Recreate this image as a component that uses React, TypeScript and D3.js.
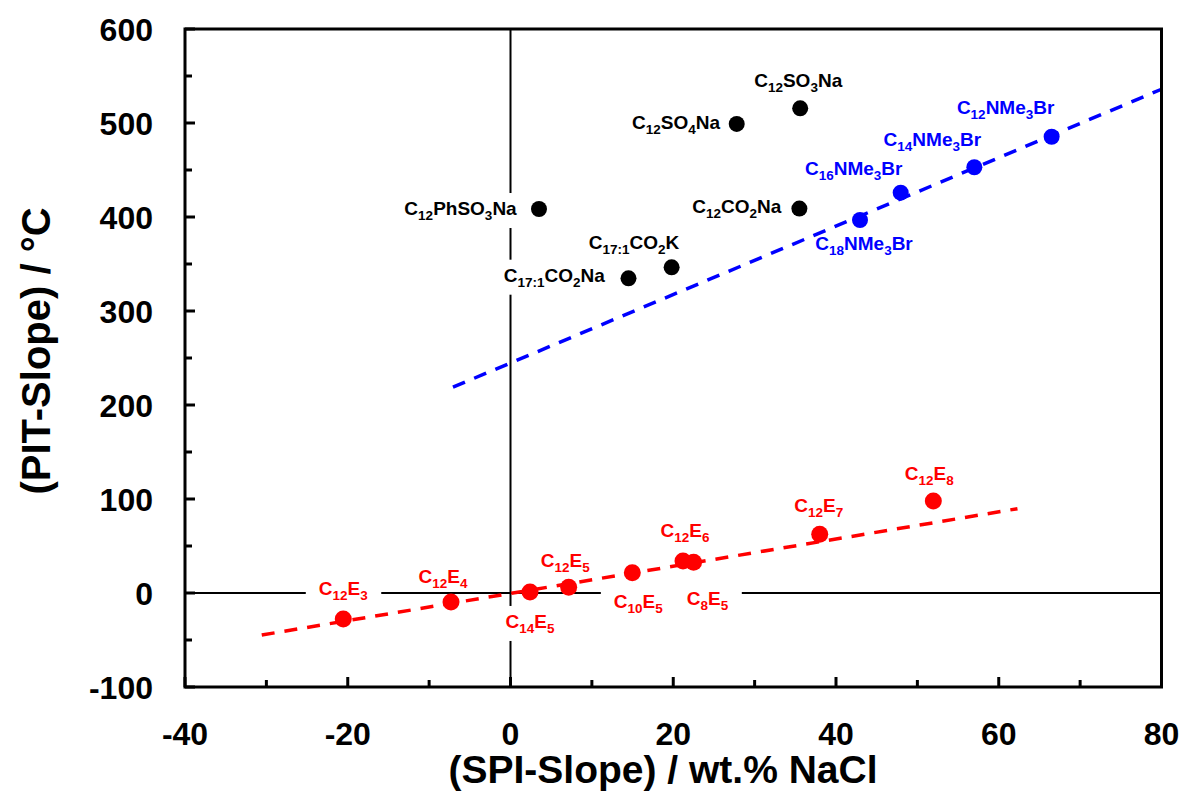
import React, { useEffect, useRef } from "react";
import * as d3 from "d3";

// ---- data ----
const anionicNames = ["C_12SO_3Na", "C_12SO_4Na", "C_12PhSO_3Na", "C_12CO_2Na", "C_17:1CO_2K", "C_17:1CO_2Na"];
const anionicSPI = [35.6, 27.8, 3.5, 35.5, 19.8, 14.5];
const anionicPIT = [515.6, 499, 408.5, 409, 346.5, 334.8];

const cationicNames = ["C_12NMe_3Br", "C_14NMe_3Br", "C_16NMe_3Br", "C_18NMe_3Br"];
const cationicSPI = [66.5, 57.0, 47.95, 42.95];
const cationicPIT = [485.4, 452.9, 425.9, 396.8];

const nonionicNames = ["C_12E_3", "C_12E_4", "C_14E_5", "C_12E_5", "C_10E_5", "C_12E_6", "C_8E_5", "C_12E_7", "C_12E_8"];
const nonionicSPI = [-20.55, -7.31, 2.4, 7.15, 14.97, 21.2, 22.5, 38.0, 51.96];
const nonionicPIT = [-27.7, -9.6, 1.1, 6.0, 21.6, 34.0, 32.6, 62.4, 97.9];

// linear fits: [xStart, xEnd], slope, intercept
const cationicFitRange = [-7.07, 80];
const cationicFitSlope = 3.64;
const cationicFitIntercept = 244.7;
const nonionicFitRange = [-30.57, 62.3];
const nonionicFitSlope = 1.447;
const nonionicFitIntercept = -0.46;

const xTicksMajor = [-40, -20, 0, 20, 40, 60, 80];
const xTicksMinor = [-30, -10, 10, 30, 50, 70];
const yTicksMajor = [-100, 0, 100, 200, 300, 400, 500, 600];
const yTicksMinor = [-50, 50, 150, 250, 350, 450, 550];

// label placement (pixel offsets from point)
const anionicLabelOffsets = [
  [-2, -21.6, "middle"], [-16.7, 5.3, "end"], [-22.3, 6, "end"],
  [-18, 4.4, "end"], [-37.7, -18, "middle"], [-23.7, 3.4, "end"],
];
const cationicLabelOffsets = [
  [-46, -22.7, "middle"], [-42, -21, "middle"], [-47, -17.7, "middle"], [4, 30, "middle"],
];
const nonionicLabelOffsets = [
  [0, -24, "middle"], [-8, -18.7, "middle"], [0, 36, "middle"], [-3.4, -20.6, "middle"],
  [6, 35.6, "middle"], [2, -24.3, "middle"], [14, 42.7, "middle"], [-1, -22.6, "middle"], [-4, -21, "middle"],
];
const knockoutLabels = ["C_12PhSO_3Na", "C_17:1CO_2Na", "C_14E_5", "C_12E_3", "C_10E_5", "C_8E_5"];

const FONT = "Arial, 'Liberation Sans', Helvetica, sans-serif";

export default function App() {
  const ref = useRef<SVGSVGElement>(null);

  useEffect(() => {
    const svg = d3.select(ref.current);
    svg.selectAll("*").remove();

    const x = d3.scaleLinear().domain([-40, 80]).range([185, 1161.5]);
    const y = d3.scaleLinear().domain([-100, 600]).range([687, 29]);
    const [x0, x1] = x.range();
    const [yb, yt] = y.range();

    const gZero = svg.append("g");
    const gBox = svg.append("g");
    const gFit = svg.append("g");
    const gPts = svg.append("g");
    const gTxt = svg.append("g");
    const gAxis = svg.append("g");

    // zero lines
    gZero.append("line").attr("x1", x0).attr("x2", x1).attr("y1", y(0)).attr("y2", y(0))
      .attr("stroke", "#000").attr("stroke-width", 2);
    gZero.append("line").attr("x1", x(0)).attr("x2", x(0)).attr("y1", yt).attr("y2", yb)
      .attr("stroke", "#000").attr("stroke-width", 2);

    // fit lines
    const fits = [
      { r: cationicFitRange, m: cationicFitSlope, b: cationicFitIntercept, c: "#0000ff" },
      { r: nonionicFitRange, m: nonionicFitSlope, b: nonionicFitIntercept, c: "#ff0000" },
    ];
    fits.forEach((f) => {
      const pts = f.r.map((v) => [x(v), y(f.m * v + f.b)] as [number, number]);
      gFit.append("path").attr("d", d3.line()(pts) as string)
        .attr("stroke", f.c).attr("stroke-width", 3.5).attr("fill", "none")
        .attr("stroke-dasharray", "13 10");
    });

    const groups = [
      { names: anionicNames, xs: anionicSPI, ys: anionicPIT, offs: anionicLabelOffsets, c: "#000000", r: 8 },
      { names: cationicNames, xs: cationicSPI, ys: cationicPIT, offs: cationicLabelOffsets, c: "#0000ff", r: 8 },
      { names: nonionicNames, xs: nonionicSPI, ys: nonionicPIT, offs: nonionicLabelOffsets, c: "#ff0000", r: 8.5 },
    ];

    groups.forEach((g) => {
      g.names.forEach((name, i) => {
        const px = x(g.xs[i]);
        const py = y(g.ys[i]);
        gPts.append("circle").attr("cx", px).attr("cy", py).attr("r", g.r).attr("fill", g.c);
        const [dx, dy, anchor] = g.offs[i] as [number, number, string];
        const t = gTxt.append("text").attr("x", px + dx).attr("y", py + dy)
          .attr("text-anchor", anchor).attr("font-family", FONT).attr("font-weight", "bold")
          .attr("font-size", 19).attr("fill", g.c);
        const parts = name.split(/_([0-9:]+)/);
        let shifted = false;
        parts.forEach((p, k) => {
          if (p === "") return;
          const isSub = k % 2 === 1;
          const ts = t.append("tspan").text(p);
          if (isSub) {
            ts.attr("font-size", 13.5).attr("dy", shifted ? 0 : 5);
            shifted = true;
          } else {
            if (shifted) ts.attr("dy", -5);
            shifted = false;
          }
        });
        if (knockoutLabels.includes(name)) {
          const bb = (t.node() as SVGTextElement).getBBox();
          gBox.append("rect").attr("x", bb.x - 13).attr("y", bb.y - 5)
            .attr("width", bb.width + 26).attr("height", bb.height + 10).attr("fill", "#fff");
        }
      });
    });

    // frame
    gAxis.append("rect").attr("x", x0).attr("y", yt).attr("width", x1 - x0).attr("height", yb - yt)
      .attr("fill", "none").attr("stroke", "#000").attr("stroke-width", 3);

    xTicksMajor.forEach((v) => {
      gAxis.append("line").attr("x1", x(v)).attr("x2", x(v)).attr("y1", yb).attr("y2", yb - 10)
        .attr("stroke", "#000").attr("stroke-width", 3);
      gAxis.append("text").attr("x", x(v)).attr("y", 745).attr("text-anchor", "middle")
        .attr("font-family", FONT).attr("font-weight", "bold").attr("font-size", 32).text(String(v));
    });
    xTicksMinor.forEach((v) => {
      gAxis.append("line").attr("x1", x(v)).attr("x2", x(v)).attr("y1", yb).attr("y2", yb - 7)
        .attr("stroke", "#000").attr("stroke-width", 3);
    });
    yTicksMajor.forEach((v) => {
      gAxis.append("line").attr("x1", x0).attr("x2", x0 + 10).attr("y1", y(v)).attr("y2", y(v))
        .attr("stroke", "#000").attr("stroke-width", 3);
      gAxis.append("text").attr("x", 153).attr("y", y(v) + 11.5).attr("text-anchor", "end")
        .attr("font-family", FONT).attr("font-weight", "bold").attr("font-size", 32).text(String(v));
    });
    yTicksMinor.forEach((v) => {
      gAxis.append("line").attr("x1", x0).attr("x2", x0 + 7).attr("y1", y(v)).attr("y2", y(v))
        .attr("stroke", "#000").attr("stroke-width", 3);
    });

    gAxis.append("text").attr("x", 663).attr("y", 783).attr("text-anchor", "middle")
      .attr("font-family", FONT).attr("font-weight", "bold").attr("font-size", 39)
      .text("(SPI-Slope) / wt.% NaCl");
    gAxis.append("text").attr("transform", "translate(50,351) rotate(-90)").attr("text-anchor", "middle")
      .attr("font-family", FONT).attr("font-weight", "bold").attr("font-size", 40)
      .text("(PIT-Slope) / °C");
  }, []);

  return (
    <svg ref={ref} width={1183} height={792}
      style={{ position: "absolute", left: 0, top: 0, background: "#fff" }} />
  );
}
